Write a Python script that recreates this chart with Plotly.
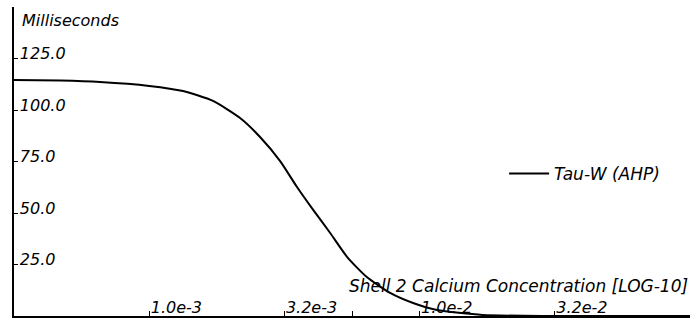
import plotly.graph_objects as go

# Tau-W (AHP) time constant vs. shell 2 calcium concentration
calcium = [3.16e-4, 4.68e-4, 6.58e-4, 1.0e-3, 1.334e-3, 1.722e-3, 2.168e-3,
           2.57e-3, 3.05e-3, 3.52e-3, 4.04e-3, 4.67e-3, 5.40e-3, 6.38e-3,
           7.78e-3, 9.46e-3, 1.16e-2, 1.71e-2, 3.02e-2, 1.0e-1]
tau_w = [114.6, 114.3, 113.6, 111.7, 109.2, 104.4, 96.1,
         86.9, 75.2, 62.6, 51.5, 40.3, 28.6, 18.9,
         11.2, 6.3, 2.9, 0.5, 0.0, 0.0]

x_tickvals = [1.0e-3, 3.1623e-3, 5.6234e-3, 1.0e-2, 3.1623e-2]
x_ticktext = ["1.0e-3", "3.2e-3", "", "1.0e-2", "3.2e-2"]
y_tickvals = [25, 50, 75, 100, 125, 150]
y_ticktext = ["25.0", "50.0", "75.0", "100.0", "125.0", ""]

FONT = dict(family="DejaVu Sans", color="black", style="italic")

fig = go.Figure()
fig.add_trace(go.Scatter(
    x=calcium, y=tau_w, mode="lines", name="Tau-W (AHP)",
    line=dict(color="black", width=2, shape="spline", smoothing=0.6),
))

fig.update_layout(
    width=690, height=322,
    margin=dict(l=14, r=0, t=7, b=6),
    paper_bgcolor="white", plot_bgcolor="white",
    showlegend=True,
    legend=dict(x=0.725, y=0.46, xanchor="left", yanchor="middle",
                itemwidth=40,
                bgcolor="rgba(0,0,0,0)", font=dict(size=17, **FONT)),
    xaxis=dict(
        type="log", range=[-3.5, -1.0],
        tickvals=x_tickvals, ticktext=x_ticktext,
        ticks="inside", ticklen=5, tickwidth=1, tickcolor="black",
        ticklabelposition="inside right", ticklabelstandoff=-3,
        tickfont=dict(size=16, **FONT),
        showline=True, linecolor="black", linewidth=2,
        showgrid=False, zeroline=False,
    ),
    yaxis=dict(
        range=[0, 150],
        tickvals=y_tickvals, ticktext=y_ticktext,
        ticks="inside", ticklen=4, tickwidth=1, tickcolor="black",
        ticklabelposition="inside top",
        ticklabelshift=7, ticklabelstandoff=5,
        tickfont=dict(size=16, **FONT),
        showline=True, linecolor="black", linewidth=2,
        showgrid=False, zeroline=False,
    ),
    annotations=[
        dict(text="Milliseconds", xref="paper", yref="paper",
             x=0.009, y=0.955, xanchor="left", yanchor="middle",
             showarrow=False, font=dict(size=16, **FONT)),
        dict(text="Shell 2 Calcium Concentration [LOG-10]",
             xref="paper", yref="paper", x=1.0, y=0.097,
             xanchor="right", yanchor="middle",
             showarrow=False, font=dict(size=17, **FONT)),
    ],
)

fig.write_html("out.html")
